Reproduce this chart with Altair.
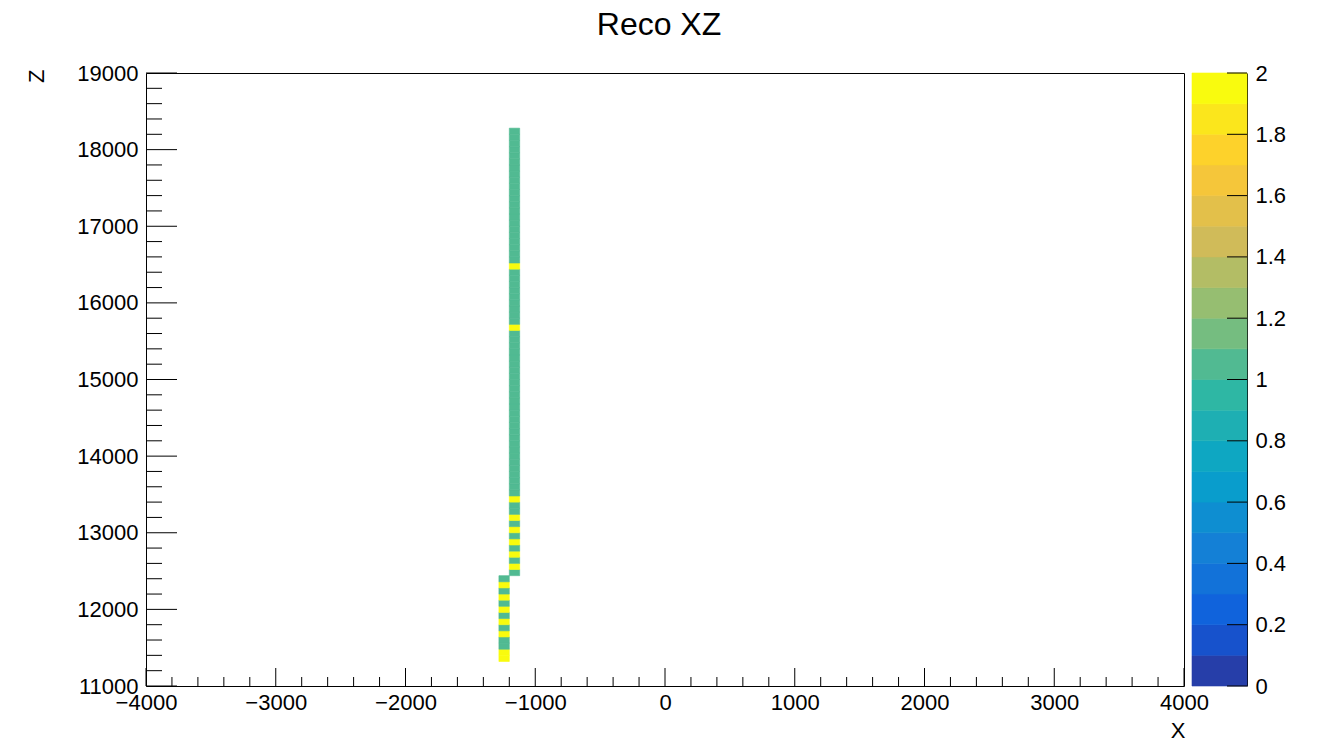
import altair as alt
import numpy as np
import pandas as pd

# ---------------- texts ----------------
TITLE = "Reco XZ"
X_TITLE = "X"
Z_TITLE = "Z"
FONT = "Liberation Sans"

# ---------------- axes ----------------
X_DOMAIN = [-4000, 4000]
Z_DOMAIN = [11000, 19000]
BIN_W = 80  # histogram bin width along X and Z

x_major = [-4000, -3000, -2000, -1000, 0, 1000, 2000, 3000, 4000]
x_minor = [v for v in range(-4000, 4001, 200) if v % 1000 != 0]
z_major = [11000, 12000, 13000, 14000, 15000, 16000, 17000, 18000, 19000]
z_minor = [v for v in range(11000, 19001, 200) if v % 1000 != 0]

# ---------------- data (bin contents) ----------------
# upper column: X bin [-1200, -1120], Z bins from 12440 upward
upper_x = [-1200, -1120]
upper_z_start = 12440
upper_counts = [
    1, 2, 1, 2, 1, 2, 1, 2, 1, 2, 1, 1, 2,
    1, 1, 1, 1, 1, 1, 1, 1, 1, 1, 1, 1, 1, 1, 1, 1, 1, 1, 1, 1, 1, 1, 1, 1, 1, 1, 1,
    2,
    1, 1, 1, 1, 1, 1, 1, 1, 1,
    2,
    1, 1, 1, 1, 1, 1, 1, 1, 1, 1, 1, 1, 1, 1, 1, 1, 1, 1, 1, 1, 1, 1,
]
# lower column: X bin [-1280, -1200], Z bins from 11320 upward
lower_x = [-1280, -1200]
lower_z_start = 11320
lower_counts = [2, 2, 1, 1, 2, 1, 2, 1, 2, 1, 2, 1, 2, 1]

# colour bar contours (20 levels, 0..2)
cb_lo = [0.0, 0.1, 0.2, 0.3, 0.4, 0.5, 0.6, 0.7, 0.8, 0.9,
         1.0, 1.1, 1.2, 1.3, 1.4, 1.5, 1.6, 1.7, 1.8, 1.9]
cb_hi = [0.1, 0.2, 0.3, 0.4, 0.5, 0.6, 0.7, 0.8, 0.9, 1.0,
         1.1, 1.2, 1.3, 1.4, 1.5, 1.6, 1.7, 1.8, 1.9, 2.0]
cb_ticks = [0, 0.2, 0.4, 0.6, 0.8, 1, 1.2, 1.4, 1.6, 1.8, 2]

# ROOT kBird palette stops (style)
bird_stops = [0.0, 0.125, 0.25, 0.375, 0.5, 0.625, 0.75, 0.875, 1.0]
bird_r = [0.2082, 0.0592, 0.0780, 0.0232, 0.1802, 0.5301, 0.8186, 0.9956, 0.9764]
bird_g = [0.1664, 0.3599, 0.5041, 0.6419, 0.7178, 0.7492, 0.7328, 0.7862, 0.9832]
bird_b = [0.5293, 0.8684, 0.8385, 0.7914, 0.6425, 0.4662, 0.3499, 0.1968, 0.0539]


def band_color(i, n=20):
    t = min((i + 0.99) / n, 1.0)
    r = np.interp(t, bird_stops, bird_r)
    g = np.interp(t, bird_stops, bird_g)
    b = np.interp(t, bird_stops, bird_b)
    return "#%02x%02x%02x" % (int(round(r * 255)), int(round(g * 255)), int(round(b * 255)))


band_colors = [band_color(i) for i in range(20)]


def color_for(v):
    idx = min(int(round(v * 10, 6)), 19)
    return band_colors[idx]


rows = []
for xs, z0, counts in [(upper_x, upper_z_start, upper_counts),
                       (lower_x, lower_z_start, lower_counts)]:
    for k, c in enumerate(counts):
        rows.append({"xlo": xs[0], "xhi": xs[1],
                     "zlo": z0 + k * BIN_W, "zhi": z0 + (k + 1) * BIN_W,
                     "count": c, "color": color_for(c)})
cells = pd.DataFrame(rows)

cbar = pd.DataFrame({"lo": cb_lo, "hi": cb_hi, "color": band_colors})

W, H = 1038, 613

xscale = alt.Scale(domain=X_DOMAIN, nice=False, zero=False)
zscale = alt.Scale(domain=Z_DOMAIN, nice=False, zero=False)
cscale = alt.Scale(domain=[0, 2], nice=False, zero=False)

x_axis = alt.Axis(
    values=x_major, format="d", title=X_TITLE, grid=False, domain=False,
    ticks=False, tickSize=0, labelPadding=6, labelFlush=False, labelOverlap=False,
    labelFont=FONT, labelFontSize=22, labelColor="black",
    titleFont=FONT, titleFontSize=22, titleFontWeight="normal", titleColor="black",
    titleX=1039, titleY=51, titleAlign="right", titleBaseline="alphabetic",
)
z_axis = alt.Axis(
    values=z_major, format="d", title=Z_TITLE, grid=False, domain=False,
    ticks=False, tickSize=0, labelPadding=8, labelFlush=False, labelOverlap=False,
    labelFont=FONT, labelFontSize=22, labelColor="black",
    titleFont=FONT, titleFontSize=22, titleFontWeight="normal", titleColor="black",
    titleAngle=270, titleAlign="right", titleBaseline="alphabetic",
    titleX=-103, titleY=-4,
)

hist = alt.Chart(cells).mark_rect(strokeWidth=0.6).encode(
    x=alt.X("xlo:Q", scale=xscale, axis=x_axis),
    x2="xhi:Q",
    y=alt.Y("zlo:Q", scale=zscale, axis=z_axis),
    y2="zhi:Q",
    color=alt.Color("color:N", scale=None),
    stroke=alt.Stroke("color:N", scale=None),
)

zt_major = alt.Chart(pd.DataFrame({"v": z_major})).mark_rule(color="black", strokeWidth=1).encode(
    y=alt.Y("v:Q", scale=zscale, axis=z_axis), x=alt.value(0), x2=alt.value(31))
zt_minor = alt.Chart(pd.DataFrame({"v": z_minor})).mark_rule(color="black", strokeWidth=1).encode(
    y=alt.Y("v:Q", scale=zscale, axis=z_axis), x=alt.value(0), x2=alt.value(16))
xt_major = alt.Chart(pd.DataFrame({"v": x_major})).mark_rule(color="black", strokeWidth=1).encode(
    x=alt.X("v:Q", scale=xscale, axis=x_axis), y=alt.value(H), y2=alt.value(H - 18))
xt_minor = alt.Chart(pd.DataFrame({"v": x_minor})).mark_rule(color="black", strokeWidth=1).encode(
    x=alt.X("v:Q", scale=xscale, axis=x_axis), y=alt.value(H), y2=alt.value(H - 9))

title_txt = alt.Chart(pd.DataFrame({"t": [TITLE]})).mark_text(
    font=FONT, fontSize=32, color="black", align="center", baseline="alphabetic"
).encode(text="t:N", x=alt.value(513), y=alt.value(-38))

main = alt.layer(hist, zt_major, zt_minor, xt_major, xt_minor, title_txt)

cb_axis = alt.Axis(
    orient="right", offset=63, values=cb_ticks, format="~g", title=None, grid=False,
    domain=True, domainColor="black", domainWidth=1,
    ticks=False, tickSize=0, labelPadding=8, labelFlush=False, labelOverlap=False,
    labelFont=FONT, labelFontSize=22, labelColor="black",
)
cb_rect = alt.Chart(cbar).mark_rect(strokeWidth=0.6).encode(
    y=alt.Y("lo:Q", scale=cscale, axis=cb_axis),
    y2="hi:Q",
    x=alt.value(1046), x2=alt.value(1101),
    color=alt.Color("color:N", scale=None),
    stroke=alt.Stroke("color:N", scale=None),
)
cb_tick = alt.Chart(pd.DataFrame({"v": cb_ticks})).mark_rule(color="black", strokeWidth=1).encode(
    y=alt.Y("v:Q", scale=cscale, axis=cb_axis), x=alt.value(1081), x2=alt.value(1101))
cb = alt.layer(cb_rect, cb_tick)

chart = alt.layer(main, cb).resolve_scale(y="independent").properties(
    width=W, height=H,
    autosize=alt.AutoSizeParams(type="none"),
    padding={"left": 138, "top": 65, "right": 120, "bottom": 56},
).configure_view(stroke="black", strokeWidth=1)

chart.save("out.html", embed_options={"renderer": "svg", "actions": False})
